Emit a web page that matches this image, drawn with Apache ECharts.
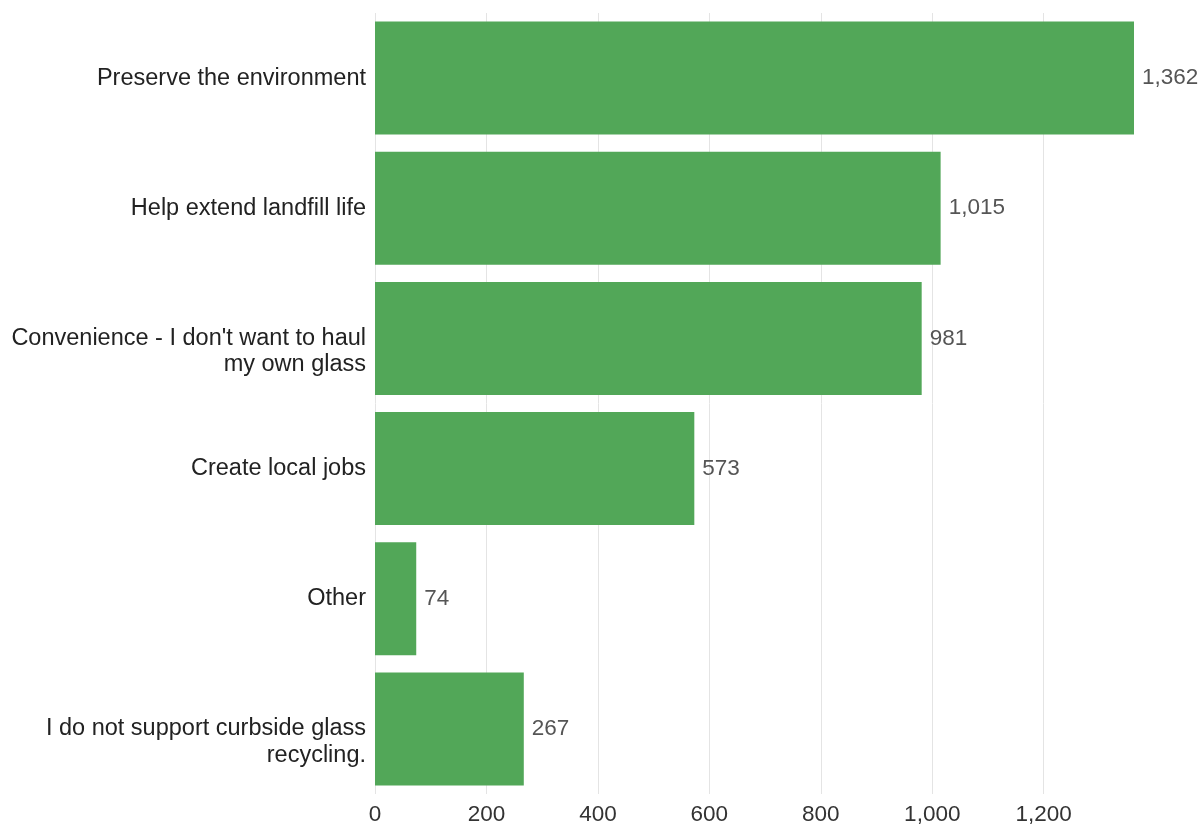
<!DOCTYPE html>
<html><head><meta charset="utf-8">
<script src="https://cdn.jsdelivr.net/npm/echarts@6/dist/echarts.min.js"></script>
<style>html,body{margin:0;padding:0;background:#fff}#c{width:1204px;height:828px}</style>
</head><body><div id="c"></div>
<script>
const categories = [
  "Preserve the environment",
  "Help extend landfill life",
  "Convenience - I don't want to haul\nmy own glass",
  "Create local jobs",
  "Other",
  "I do not support curbside glass\nrecycling."
];
const values = [1362, 1015, 981, 573, 74, 267];
const xTicks = [0, 200, 400, 600, 800, 1000, 1200];

const FONT = 'Liberation Sans, Arial, Helvetica, sans-serif';
const chart = echarts.init(document.getElementById('c'));
chart.setOption({
  animation: false,
  grid: { left: 375, right: 70, top: 13, bottom: 34 },
  xAxis: {
    type: 'value', min: 0, max: Math.max(...values), interval: 200,
    axisLine: { show: false }, axisTick: { show: false },
    axisLabel: {
      showMaxLabel: false, margin: 9,
      fontFamily: FONT, fontSize: 22.5, color: '#333',
      formatter: v => xTicks.includes(v) ? v.toLocaleString('en-US') : ''
    },
    splitLine: { show: true, showMaxLine: false, lineStyle: { color: '#e4e4e4', width: 1 } }
  },
  yAxis: {
    type: 'category', data: categories, inverse: true,
    axisLine: { show: false }, axisTick: { show: false },
    axisLabel: {
      margin: 9, fontFamily: FONT, fontSize: 23.5,
      color: '#222', lineHeight: 26.5, align: 'right',
      formatter: v => v.includes('\n') ? '\u00a0\n' + v : v
    }
  },
  series: [{
    type: 'bar', data: values, barCategoryGap: '13.2%',
    itemStyle: { color: '#52a758' },
    label: {
      show: true, position: 'right', distance: 8,
      fontFamily: FONT, fontSize: 22.5, color: '#555',
      formatter: p => p.value.toLocaleString('en-US')
    }
  }]
});
</script></body></html>
